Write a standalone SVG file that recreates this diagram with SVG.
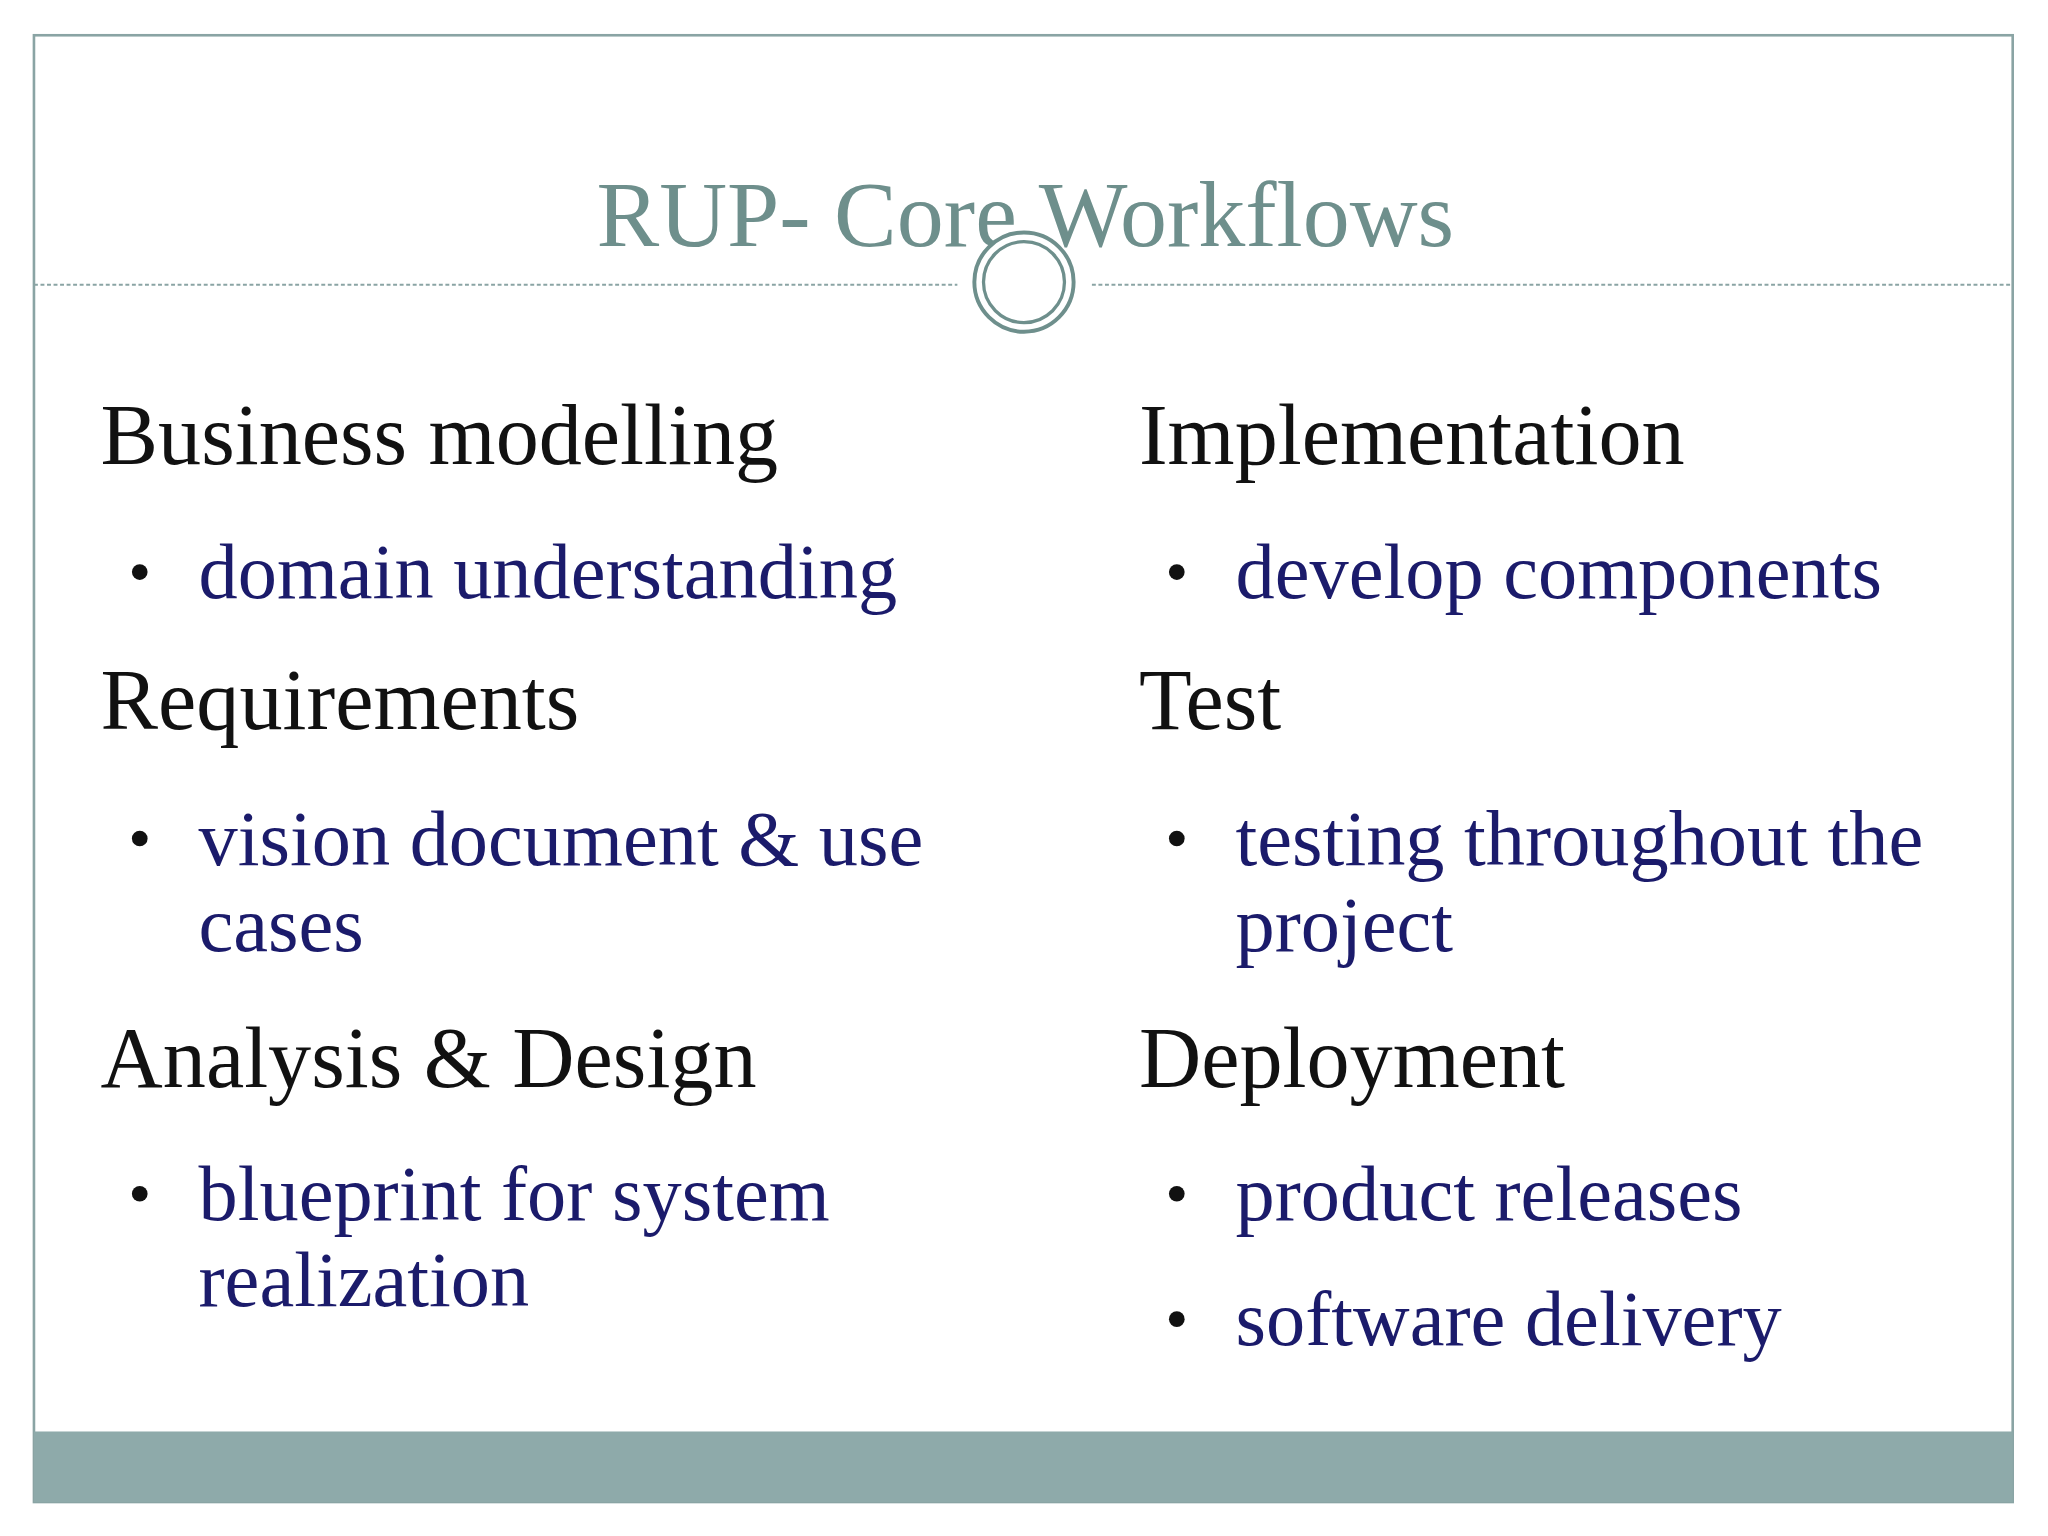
<svg xmlns="http://www.w3.org/2000/svg" width="2048" height="1536" viewBox="0 0 2048 1536">
<style>
.h{font-family:"Liberation Serif",serif;font-size:66px;fill:#111}
.b{font-family:"Liberation Serif",serif;font-size:60px;fill:#1b1b6b}
.d{fill:#111}
</style>
<rect width="2048" height="1536" fill="#fff"/>
<g transform="scale(1.3061)">
<rect x="26" y="27" width="1515" height="1123" fill="#fff" stroke="#8aa4a4" stroke-width="2"/>
<rect x="26" y="1096" width="1515" height="54" fill="#8eaaaa"/>
<g id="title">
<text x="785" y="188" text-anchor="middle" font-family="Liberation Serif,serif" font-size="72" fill="#6e8f8c">RUP- Core Workflows</text>
<line x1="26" y1="218" x2="733" y2="218" stroke="#8aa4a4" stroke-width="1.5" stroke-dasharray="3,2"/>
<line x1="836" y1="218" x2="1541" y2="218" stroke="#8aa4a4" stroke-width="1.5" stroke-dasharray="3,2"/>
<circle cx="784" cy="216" r="38" fill="#fff" stroke="#6e8f8c" stroke-width="3"/>
<circle cx="784" cy="216" r="31" fill="#fff" stroke="#6e8f8c" stroke-width="2.5"/>
</g>
<g id="left">
<text class="h" x="77" y="355">Business modelling</text>
<circle class="d" cx="107" cy="438" r="6"/>
<text class="b" x="152" y="458">domain understanding</text>
<text class="h" x="77" y="558">Requirements</text>
<circle class="d" cx="107" cy="642" r="6"/>
<text class="b" x="152" y="662">vision document &amp; use</text>
<text class="b" x="152" y="728">cases</text>
<text class="h" x="77" y="832">Analysis &amp; Design</text>
<circle class="d" cx="107" cy="914" r="6"/>
<text class="b" x="152" y="934">blueprint for system</text>
<text class="b" x="152" y="1000">realization</text>
</g>
<g id="right">
<text class="h" x="872" y="355">Implementation</text>
<circle class="d" cx="901" cy="438" r="6"/>
<text class="b" x="946" y="458">develop components</text>
<text class="h" x="872" y="558">Test</text>
<circle class="d" cx="901" cy="642" r="6"/>
<text class="b" x="946" y="662">testing throughout the</text>
<text class="b" x="946" y="728">project</text>
<text class="h" x="872" y="832">Deployment</text>
<circle class="d" cx="901" cy="914" r="6"/>
<text class="b" x="946" y="934">product releases</text>
<circle class="d" cx="901" cy="1010" r="6"/>
<text class="b" x="946" y="1030">software delivery</text>
</g>
</g>
</svg>
